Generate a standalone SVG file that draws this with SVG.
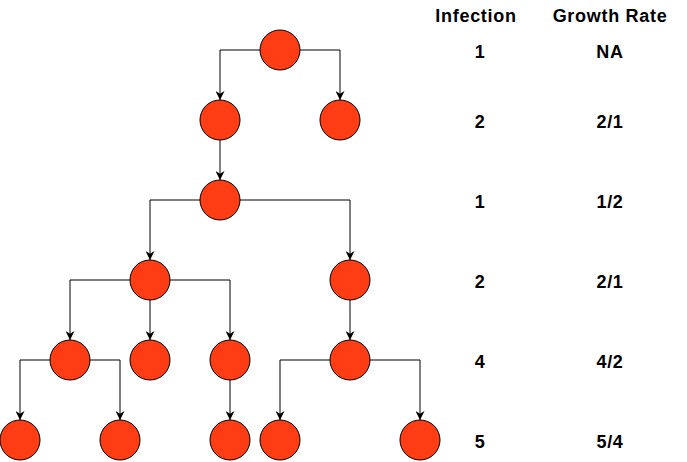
<svg xmlns="http://www.w3.org/2000/svg" width="687" height="462" viewBox="0 0 687 462">
<style>
.n{fill:#FF3D14;stroke:#000;stroke-width:1}
.c{fill:none;stroke:#000;stroke-width:1}
.t{font-family:"Liberation Sans",Arial,sans-serif;font-weight:bold;font-size:18px;letter-spacing:0.7px;text-anchor:middle;fill:#000}
</style>
<defs>
<marker id="a" viewBox="0 0 10 10" refX="10" refY="5" markerWidth="9" markerHeight="9" markerUnits="userSpaceOnUse" orient="auto">
<path d="M0,0 L10,5 L0,10 L3,5 Z" fill="#000"/>
</marker>
</defs>
<rect width="687" height="462" fill="#fff"/>
<g id="connectors">
<path class="c" marker-end="url(#a)" d="M260,50 H220 V100"/>
<path class="c" marker-end="url(#a)" d="M300,50 H340 V100"/>
<path class="c" marker-end="url(#a)" d="M220,140 V180"/>
<path class="c" marker-end="url(#a)" d="M200,200 H150 V260"/>
<path class="c" marker-end="url(#a)" d="M240,200 H350 V260"/>
<path class="c" marker-end="url(#a)" d="M130,280 H70 V340"/>
<path class="c" marker-end="url(#a)" d="M150,300 V340"/>
<path class="c" marker-end="url(#a)" d="M170,280 H230 V340"/>
<path class="c" marker-end="url(#a)" d="M350,300 V340"/>
<path class="c" marker-end="url(#a)" d="M50,360 H20 V420"/>
<path class="c" marker-end="url(#a)" d="M90,360 H120 V420"/>
<path class="c" marker-end="url(#a)" d="M230,380 V420"/>
<path class="c" marker-end="url(#a)" d="M330,360 H280 V420"/>
<path class="c" marker-end="url(#a)" d="M370,360 H420 V420"/>
</g>
<g id="n1"><circle class="n" cx="280" cy="50" r="20"/></g>
<g id="n2"><circle class="n" cx="220" cy="120" r="20"/></g>
<g id="n3"><circle class="n" cx="340" cy="120" r="20"/></g>
<g id="n4"><circle class="n" cx="220" cy="200" r="20"/></g>
<g id="n5"><circle class="n" cx="150" cy="280" r="20"/></g>
<g id="n6"><circle class="n" cx="350" cy="280" r="20"/></g>
<g id="n7"><circle class="n" cx="70" cy="360" r="20"/></g>
<g id="n8"><circle class="n" cx="150" cy="360" r="20"/></g>
<g id="n9"><circle class="n" cx="230" cy="360" r="20"/></g>
<g id="n10"><circle class="n" cx="350" cy="360" r="20"/></g>
<g id="n11"><circle class="n" cx="20" cy="440" r="20"/></g>
<g id="n12"><circle class="n" cx="120" cy="440" r="20"/></g>
<g id="n13"><circle class="n" cx="230" cy="440" r="20"/></g>
<g id="n14"><circle class="n" cx="280" cy="440" r="20"/></g>
<g id="n15"><circle class="n" cx="420" cy="440" r="20"/></g>
<g id="table">
<text class="t" x="476" y="22">Infection</text>
<text class="t" x="610" y="22">Growth Rate</text>
<text class="t" x="480" y="58">1</text>
<text class="t" x="610" y="58">NA</text>
<text class="t" x="480" y="128">2</text>
<text class="t" x="610" y="128">2/1</text>
<text class="t" x="480" y="208">1</text>
<text class="t" x="610" y="208">1/2</text>
<text class="t" x="480" y="288">2</text>
<text class="t" x="610" y="288">2/1</text>
<text class="t" x="480" y="368">4</text>
<text class="t" x="610" y="368">4/2</text>
<text class="t" x="480" y="448">5</text>
<text class="t" x="610" y="448">5/4</text>
</g>
</svg>
